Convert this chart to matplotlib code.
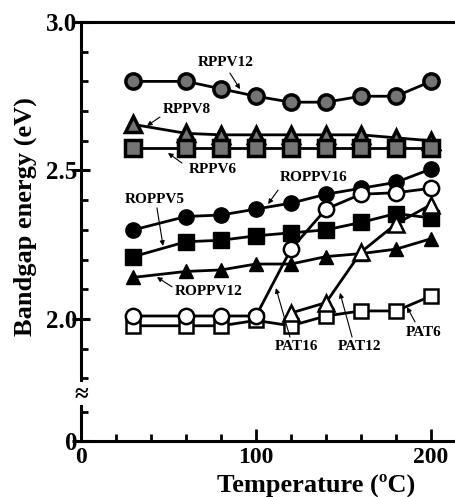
import matplotlib
matplotlib.use("Agg")
import matplotlib.pyplot as plt
from matplotlib import rcParams

rcParams['font.family'] = 'Liberation Serif'
rcParams['font.weight'] = 'bold'

# temperatures (degC)
temps = [30, 60, 80, 100, 120, 140, 160, 180, 200]
temps_pat12 = [120, 140, 160, 180, 200]

# bandgap energies (eV)
rppv12 = [2.80, 2.80, 2.775, 2.75, 2.73, 2.73, 2.75, 2.75, 2.80]
rppv8 = [2.655, 2.625, 2.62, 2.62, 2.62, 2.62, 2.62, 2.61, 2.60]
rppv6 = [2.575, 2.575, 2.575, 2.575, 2.575, 2.575, 2.575, 2.575, 2.575]
roppv16 = [2.30, 2.345, 2.35, 2.37, 2.39, 2.42, 2.44, 2.46, 2.505]
roppv5 = [2.21, 2.26, 2.265, 2.28, 2.29, 2.30, 2.325, 2.355, 2.34]
roppv12 = [2.14, 2.16, 2.165, 2.185, 2.185, 2.21, 2.22, 2.235, 2.27]
pat16 = [2.01, 2.01, 2.01, 2.01, 2.235, 2.37, 2.42, 2.425, 2.44]
pat12 = [2.02, 2.055, 2.225, 2.32, 2.385]
pat6 = [1.977, 1.977, 1.977, 1.995, 1.977, 2.01, 2.027, 2.027, 2.077]

# broken y axis: the "0" sits just below the break
y_zero = 1.589
y_major = [y_zero, 2.0, 2.5, 3.0]
y_major_labels = ["0", "2.0", "2.5", "3.0"]
y_minor = [1.685, 1.8, 1.9, 2.1, 2.2, 2.3, 2.4, 2.6, 2.7, 2.8, 2.9]
x_major = [0, 100, 200]
x_minor = [20, 40, 60, 80, 120, 140, 160, 180]

W, H = 456, 497
fig = plt.figure(figsize=(W / 100, H / 100), dpi=100)
ax = fig.add_axes([81 / W, 56 / H, 375 / W, 419 / H])

gray = '#747474'
lw = 2.0
ms = 11

ax.plot(temps, rppv12, '-o', color='k', lw=lw, ms=ms, mfc=gray, mec='k', mew=2.5)
ax.plot(temps, rppv8, '-^', color='k', lw=lw, ms=ms, mfc=gray, mec='k', mew=2.5)
ax.plot(temps, rppv6, '-s', color='k', lw=lw, ms=ms, mfc=gray, mec='k', mew=2.5)

ax.plot(temps, roppv16, '-o', color='k', lw=lw, ms=ms)
ax.plot(temps, roppv5, '-s', color='k', lw=lw, ms=ms)
ax.plot(temps, roppv12, '-^', color='k', lw=lw, ms=ms - 1)

ax.plot(temps, pat6, '-s', color='k', lw=lw, ms=ms - 1, mfc='white', mew=1.8)
ax.plot(temps_pat12, pat12, '-^', color='k', lw=lw, ms=ms, mfc='white', mew=1.8)
ax.plot(temps, pat16, '-o', color='k', lw=lw, ms=ms, mfc='white', mew=1.8)

ax.set_xlim(0, 214.3)
ax.set_ylim(y_zero, 3.0)

ax.spines['right'].set_visible(False)
for s in ['left', 'top', 'bottom']:
    ax.spines[s].set_linewidth(2.2)

ax.set_xticks(x_major)
ax.set_xticklabels([str(v) for v in x_major])
ax.set_xticks(x_minor, minor=True)
ax.set_yticks(y_major)
ax.set_yticklabels(y_major_labels)
ax.set_yticks(y_minor, minor=True)

ax.tick_params(axis='x', which='major', direction='in', length=9, width=2, labelsize=17, pad=4)
ax.tick_params(axis='x', which='minor', direction='in', length=5, width=2)
ax.tick_params(axis='y', which='major', direction='inout', length=13, width=2.2, labelsize=18, pad=-4)
ax.tick_params(axis='y', which='minor', direction='in', length=5, width=2)
ax.tick_params(top=False, right=False, which='both')

# axis break mark
ax.text(0, 1.748, "\u2248", fontsize=18, ha='center', va='center',
        transform=ax.transData, clip_on=False,
        bbox=dict(boxstyle='square,pad=0.0', fc='white', ec='none'))

arrow = dict(arrowstyle='-|>', color='k', lw=0.8, mutation_scale=7, shrinkA=0, shrinkB=0)
labels = [
    ("RPPV12", (82.9, 2.865), (85.1, 2.828), (90.9, 2.774)),
    ("RPPV8", (60.6, 2.704), (45.1, 2.680), (37.7, 2.650)),
    ("RPPV6", (75.4, 2.502), (57.7, 2.525), (49.7, 2.559)),
    ("ROPPV16", (133.1, 2.475), (112.6, 2.434), (106.9, 2.387)),
    ("ROPPV5", (42.3, 2.401), (43.4, 2.374), (46.9, 2.246)),
    ("ROPPV12", (73.1, 2.091), (52.0, 2.108), (43.4, 2.141)),
    ("PAT16", (122.9, 1.906), (119.4, 1.939), (111.4, 2.104)),
    ("PAT12", (159.4, 1.906), (154.9, 1.939), (148.0, 2.088)),
    ("PAT6", (196.0, 1.956), (190.9, 1.990), (186.3, 2.040)),
]
for name, pos, start, tip in labels:
    ax.text(pos[0], pos[1], name, fontsize=11, ha='center', va='center')
    ax.annotate("", xy=tip, xytext=start, arrowprops=arrow)

fig.text(316 / W, 1 - 485 / H, "Temperature (\u00baC)", fontsize=19, ha='center', va='center')
fig.text(25 / W, 1 - 217 / H, "Bandgap energy (eV)", fontsize=19, ha='center', va='center',
         rotation=90)

fig.savefig("out.png", dpi=100)
